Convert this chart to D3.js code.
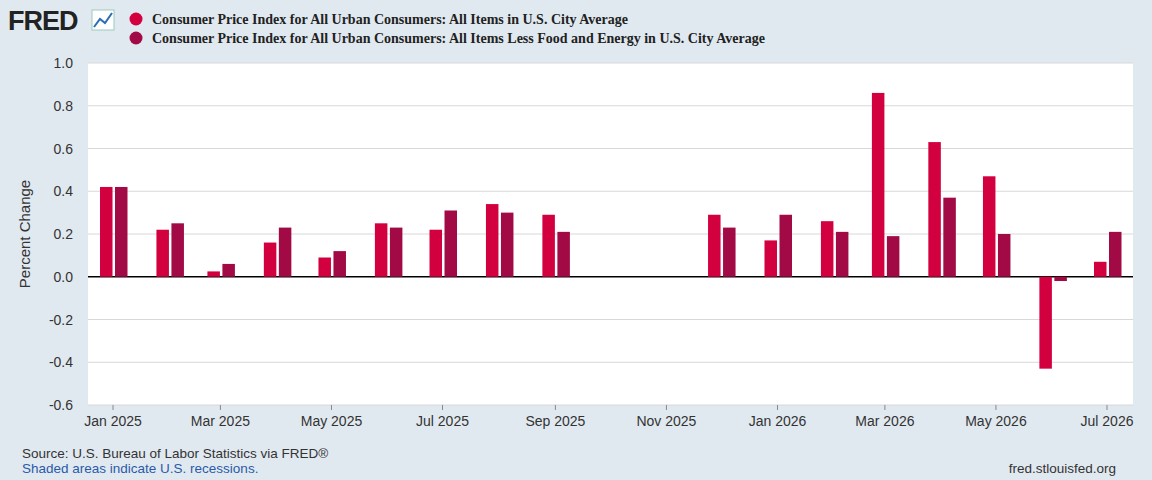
<!DOCTYPE html><html><head><meta charset="utf-8"><script src="https://cdn.jsdelivr.net/npm/d3@7"></script>
<style>body{margin:0;background:#e1e9f0;font-family:"Liberation Sans",Arial,sans-serif}</style></head><body><svg id="c" width="1152" height="480"></svg>
<script>
const months=["2025-01","2025-02","2025-03","2025-04","2025-05","2025-06","2025-07","2025-08","2025-09","2025-10","2025-11","2025-12","2026-01","2026-02","2026-03","2026-04","2026-05","2026-06","2026-07"];
const cpi=[0.42,0.22,0.025,0.16,0.09,0.25,0.22,0.34,0.29,null,null,0.29,0.17,0.26,0.86,0.63,0.47,-0.43,0.07];
const core=[0.42,0.25,0.06,0.23,0.12,0.23,0.31,0.30,0.21,null,null,0.23,0.29,0.21,0.19,0.37,0.20,-0.02,0.21];
const yTicks=[1.0,0.8,0.6,0.4,0.2,0.0,-0.2,-0.4,-0.6];
const names=["Consumer Price Index for All Urban Consumers: All Items in U.S. City Average","Consumer Price Index for All Urban Consumers: All Items Less Food and Energy in U.S. City Average"];
const colors=["#d3003f","#a10a44"];
const svg=d3.select("#c");
const pd=d3.timeParse("%Y-%m");
const L=88,R=1133,T=63,B=405;
const x=d3.scaleTime().domain([pd("2025-01"),pd("2026-07")]).range([113,1107]);
const y=d3.scaleLinear().domain([-0.6,1.0]).range([B,T]);
svg.append("rect").attr("x",L).attr("y",T).attr("width",R-L).attr("height",B-T).attr("fill","#fff");
yTicks.forEach(t=>{svg.append("line").attr("x1",L).attr("x2",R).attr("y1",y(t)).attr("y2",y(t)).attr("stroke",t===0?"#000":"#d8d8d8").attr("stroke-width",t===0?1.5:1);
svg.append("text").attr("x",73).attr("y",y(t)+5).attr("text-anchor","end").attr("font-size",14).attr("fill","#333").text(t.toFixed(1));});
[cpi,core].forEach((s,k)=>{s.forEach((v,i)=>{if(v==null)return;const c=x(pd(months[i]));
svg.append("rect").attr("x",k?c+2:c-13).attr("width",12.5).attr("y",y(Math.max(0,v))).attr("height",Math.abs(y(v)-y(0))).attr("fill",colors[k]);});});
const tm=months.filter((m,i)=>i%2===0).map(pd);
tm.forEach(d=>{svg.append("line").attr("x1",x(d)).attr("x2",x(d)).attr("y1",B).attr("y2",B+5).attr("stroke","#888");
svg.append("text").attr("x",x(d)).attr("y",426).attr("text-anchor","middle").attr("font-size",14).attr("fill","#333").text(d3.timeFormat("%b %Y")(d));});
svg.append("text").attr("transform","translate(30,234) rotate(-90)").attr("text-anchor","middle").attr("font-size",15).attr("fill","#333").text("Percent Change");
svg.append("text").attr("x",8).attr("y",30).attr("font-size",27).attr("font-weight","bold").attr("fill","#222").attr("letter-spacing","-1").text("FRED");
svg.append("rect").attr("x",92).attr("y",10).attr("width",22).attr("height",20).attr("fill","#fff").attr("stroke","#9cb");
svg.append("path").attr("d","M94,27 L100,19 L105,23 L112,13").attr("fill","none").attr("stroke","#2a6db5").attr("stroke-width",2);
names.forEach((n,i)=>{svg.append("circle").attr("cx",136).attr("cy",19+i*19).attr("r",6.5).attr("fill",colors[i]);
svg.append("text").attr("x",152).attr("y",24+i*19).attr("font-family","Liberation Serif,serif").attr("font-weight","bold").attr("font-size",14).attr("fill","#222").text(n);});
svg.append("text").attr("x",22).attr("y",458).attr("font-size",13.5).attr("fill","#333").text("Source: U.S. Bureau of Labor Statistics via FRED®");
svg.append("text").attr("x",22).attr("y",473).attr("font-size",13.5).attr("fill","#2a5aa8").text("Shaded areas indicate U.S. recessions.");
svg.append("text").attr("x",1116).attr("y",473).attr("text-anchor","end").attr("font-size",13.5).attr("fill","#333").text("fred.stlouisfed.org");
</script></body></html>
